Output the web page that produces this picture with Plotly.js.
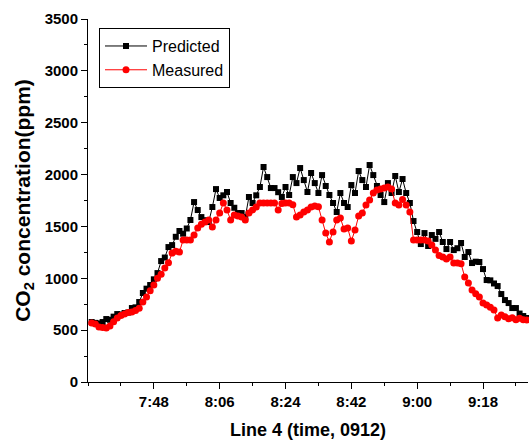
<!DOCTYPE html>
<html>
<head>
<meta charset="utf-8">
<script src="https://cdn.plot.ly/plotly-3.0.1.min.js"></script>
<style>html,body{margin:0;padding:0;background:#fff;}#chart{width:529px;height:444px;}</style>
</head>
<body>
<div id="chart"></div>
<script>
// minutes after 7:30 (one reading per minute, 7:31 .. 9:30)
const minutes = Array.from({length: 120}, (_, i) => i + 1);

const predicted = [
  578, 570, 565, 578, 607, 600, 630, 655, 650, 665,
  670, 713, 720, 771, 858, 900, 935, 990, 1050, 1166,
  1200, 1301, 1320, 1400, 1456, 1430, 1480, 1562, 1735, 1658,
  1590, 1560, 1542, 1687, 1860, 1774, 1800, 1832, 1726, 1680,
  1629, 1629, 1590, 1784, 1726, 1800, 1880, 2073, 1976, 1870,
  1870, 1830, 1784, 1880, 1803, 1976, 1918, 2063, 1947, 1832,
  2015, 1918, 1822, 1995, 1890, 1803, 1726, 1639, 1822, 1726,
  1687, 1899, 1822, 2034, 1947, 1880, 2092, 1995, 1890, 1803,
  1735, 1918, 1822, 1986, 1832, 1957, 1822, 1726, 1552, 1446,
  1330, 1436, 1311, 1417, 1380, 1446, 1350, 1282, 1350, 1272,
  1290, 1340, 1205, 1253, 1147, 1160, 1157, 1089, 983, 980,
  950, 925, 848, 790, 761, 713, 713, 660, 636, 617
];

const measured = [
  568, 560, 530, 525, 520, 540, 580, 617, 640, 655,
  670, 675, 690, 710, 771, 820, 880, 935, 1000, 1040,
  1100, 1150, 1243, 1260, 1253, 1369, 1369, 1369, 1417, 1484,
  1520, 1542, 1562, 1494, 1562, 1629, 1726, 1658, 1562, 1610,
  1600, 1590, 1562, 1629, 1658, 1687, 1726, 1726, 1726, 1726,
  1726, 1658, 1720, 1726, 1726, 1710, 1590, 1610, 1639, 1658,
  1687, 1697, 1690, 1562, 1436, 1350, 1446, 1562, 1581, 1475,
  1484, 1359, 1465, 1600, 1629, 1706, 1754, 1822, 1851, 1860,
  1870, 1880, 1860, 1726, 1706, 1760, 1706, 1639, 1369, 1369,
  1369, 1369, 1360, 1321, 1272, 1220, 1205, 1186, 1205, 1147,
  1147, 1140, 1012, 954, 887, 850, 819, 761, 742, 720,
  694, 617, 646, 630, 610, 620, 600, 615, 600, 598
];

const xTickVals = [18, 36, 54, 72, 90, 108];
const xTickText = ['7:48', '8:06', '8:24', '8:42', '9:00', '9:18'];
const xMinorVals = [0, 9, 27, 45, 63, 81, 99, 117];

const traces = [
  {
    x: minutes, y: predicted, name: 'Predicted', type: 'scatter', mode: 'lines+markers',
    line: {color: '#000000', width: 1},
    marker: {symbol: 'square', size: 6, color: '#000000'},
    cliponaxis: false
  },
  {
    x: minutes, y: measured, name: 'Measured', type: 'scatter', mode: 'lines+markers',
    line: {color: '#ff0000', width: 1},
    marker: {symbol: 'circle', size: 7, color: '#ff0000'},
    cliponaxis: false
  }
];

const FAM = 'Liberation Sans, Arial, sans-serif';
const tickFont = {family: FAM, size: 15, color: '#000', weight: 'bold'};

const layout = {
  width: 529, height: 444,
  margin: {l: 88, r: 1, t: 19, b: 62, pad: 0},
  paper_bgcolor: '#ffffff', plot_bgcolor: '#ffffff',
  showlegend: true,
  legend: {
    x: 0.025, y: 0.975, xanchor: 'left', yanchor: 'top',
    bgcolor: '#ffffff', bordercolor: '#000000', borderwidth: 1,
    font: {family: FAM, size: 16, color: '#000'},
    itemwidth: 42,
    tracegroupgap: 0
  },
  xaxis: {
    range: [0, 120.3], showgrid: false, zeroline: false,
    showline: true, linecolor: '#000', linewidth: 1,
    tickmode: 'array', tickvals: xTickVals, ticktext: xTickText,
    ticks: 'outside', ticklen: 6, tickcolor: '#000', tickwidth: 1,
    minor: {tickmode: 'array', tickvals: xMinorVals, ticks: 'outside', ticklen: 3, tickcolor: '#000'},
    tickfont: tickFont,
    title: {text: 'Line 4 (time, 0912)', font: {family: FAM, size: 18, color: '#000', weight: 'bold'}, standoff: 14}
  },
  yaxis: {
    range: [0, 3500], showgrid: false, zeroline: false,
    showline: true, linecolor: '#000', linewidth: 1,
    tickmode: 'linear', tick0: 0, dtick: 500,
    ticks: 'outside', ticklen: 6, tickcolor: '#000', tickwidth: 1,
    minor: {dtick: 250, ticks: 'outside', ticklen: 3, tickcolor: '#000'},
    tickfont: tickFont,
    title: {text: 'CO<sub>2</sub> concentration(ppm)', font: {family: FAM, size: 21, color: '#000', weight: 'bold'}, standoff: 8}
  }
};

Plotly.newPlot('chart', traces, layout, {displayModeBar: false, staticPlot: true});
</script>
</body>
</html>
